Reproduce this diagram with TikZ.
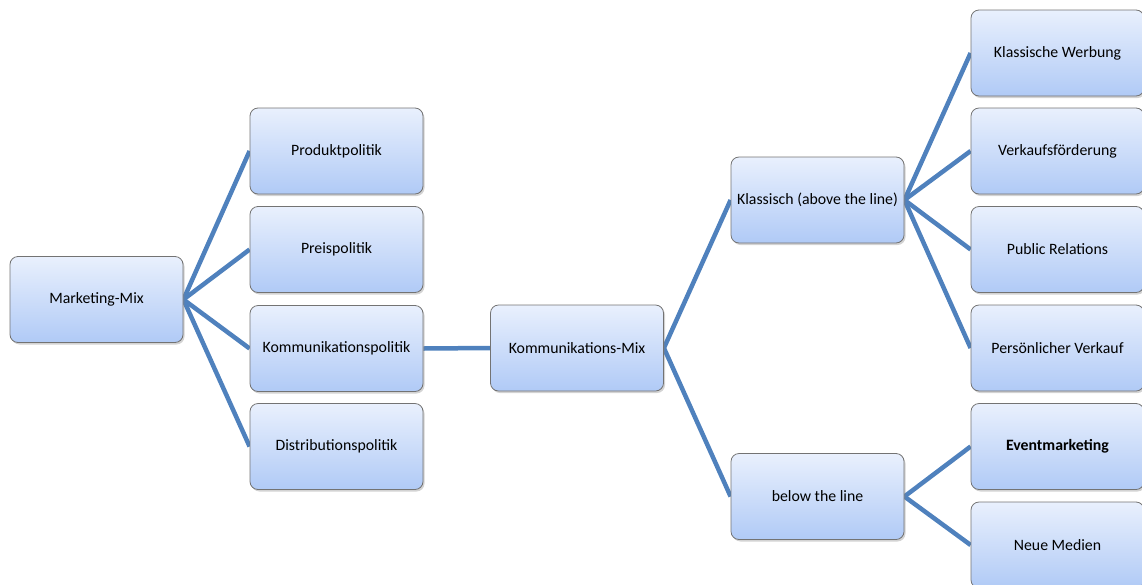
\documentclass[tikz,border=0pt]{standalone}
\usepackage{fontspec}
\setmainfont{Carlito}
\usetikzlibrary{shadows,backgrounds}
\definecolor{linec}{RGB}{79,129,189}
\definecolor{topc}{RGB}{233,240,253}
\definecolor{botc}{RGB}{176,202,246}
\begin{document}
\begin{tikzpicture}[x=1pt,y=-1pt,
  box/.style={draw=black!55, line width=0.8pt, rounded corners=8pt,
    top color=topc, bottom color=botc, minimum width=173pt, minimum height=86pt,
    inner sep=0pt, font=\fontsize{15.8}{18}\selectfont,
    drop shadow={shadow xshift=1.5pt, shadow yshift=-2pt, opacity=0.35}},
  conn/.style={draw=linec, line width=4.5pt}]
\useasboundingbox (0,0) rectangle (1142,584);
\clip (0,0) rectangle (1142,584);
\node[box] (mm) at (96.5,299.5) {Marketing-Mix};
\node[box] (pp) at (336.5,151) {Produktpolitik};
\node[box] (pr) at (336.5,249.5) {Preispolitik};
\node[box] (kp) at (336.5,348.5) {Kommunikationspolitik};
\node[box] (dp) at (336.5,446.5) {Distributionspolitik};
\node[box] (km) at (577,348) {Kommunikations-Mix};
\node[box] (kl) at (817.5,200) {Klassisch (above the line)};
\node[box] (bl) at (817.5,496.5) {below the line};
\node[box] (kw) at (1057.5,53) {Klassische Werbung};
\node[box] (vf) at (1057.5,151) {Verkaufsförderung};
\node[box] (prl) at (1057.5,249.5) {Public Relations};
\node[box] (pv) at (1057.5,348) {Persönlicher Verkauf};
\node[box] (em) at (1057.5,446.5) {\bfseries Eventmarketing};
\node[box] (nm) at (1057.5,545) {Neue Medien};
\begin{scope}[on background layer]
\foreach \c in {pp,pr,kp,dp} \draw[conn] (mm.east) -- (\c.west);
\draw[conn] (kp.east) -- (km.west);
\foreach \c in {kl,bl} \draw[conn] (km.east) -- (\c.west);
\foreach \c in {kw,vf,prl,pv} \draw[conn] (kl.east) -- (\c.west);
\foreach \c in {em,nm} \draw[conn] (bl.east) -- (\c.west);
\end{scope}
\end{tikzpicture}
\end{document}
